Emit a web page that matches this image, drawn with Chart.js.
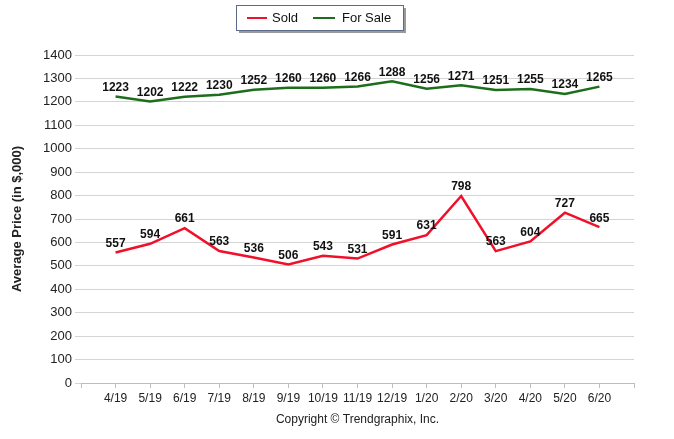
<!DOCTYPE html>
<html>
<head>
<meta charset="utf-8">
<script src="https://cdn.jsdelivr.net/npm/chart.js@4"></script>
<style>
  html, body { margin: 0; padding: 0; background: #fff; }
  #wrap { width: 674px; height: 439px; }
</style>
</head>
<body>
<div id="wrap"><canvas id="priceChart" width="674" height="439"></canvas></div>
<script>
// months shown on the x axis
const months = ["4/19", "5/19", "6/19", "7/19", "8/19", "9/19", "10/19", "11/19",
  "12/19", "1/20", "2/20", "3/20", "4/20", "5/20", "6/20"];
// average price in $,000
const sold = [557, 594, 661, 563, 536, 506, 543, 531, 591, 631, 798, 563, 604, 727, 665];
const forSale = [1223, 1202, 1222, 1230, 1252, 1260, 1260, 1266, 1288, 1256, 1271, 1251, 1255, 1234, 1265];

const FONT = "'Liberation Sans', Arial, sans-serif";
const RED = "#f0102a";
const GREEN = "#1c6e1c";

// pad an empty slot on each side so the first point sits one step from the axis
const labels = ["", ...months, ""];
const pad = (arr) => [null, ...arr, null];

// value labels drawn above each point
const valueLabels = {
  id: "valueLabels",
  afterDatasetsDraw(chart) {
    const ctx = chart.ctx;
    ctx.save();
    ctx.font = "bold 12px " + FONT;
    ctx.fillStyle = "#111";
    ctx.textAlign = "center";
    ctx.textBaseline = "bottom";
    chart.data.datasets.forEach((ds, i) => {
      chart.getDatasetMeta(i).data.forEach((pt, j) => {
        if (ds.data[j] == null) return;
        ctx.fillText(String(ds.data[j]), pt.x, pt.y - 3);
      });
    });
    ctx.restore();
  },
};

// boxed legend at the top, like the original
const boxLegend = {
  id: "boxLegend",
  afterDraw(chart) {
    const ctx = chart.ctx;
    const x = 236, y = 5, w = 167, h = 25;
    ctx.save();
    ctx.fillStyle = "#9a9a9a";
    ctx.fillRect(x + 3, y + 3, w, h);
    ctx.fillStyle = "#fff";
    ctx.fillRect(x, y, w, h);
    ctx.strokeStyle = "#5a6a88";
    ctx.lineWidth = 1;
    ctx.strokeRect(x + 0.5, y + 0.5, w, h);

    ctx.lineWidth = 2;
    ctx.strokeStyle = RED;
    ctx.beginPath();
    ctx.moveTo(x + 11, y + 13);
    ctx.lineTo(x + 31, y + 13);
    ctx.stroke();
    ctx.strokeStyle = GREEN;
    ctx.beginPath();
    ctx.moveTo(x + 77, y + 13);
    ctx.lineTo(x + 99, y + 13);
    ctx.stroke();

    ctx.font = "13px " + FONT;
    ctx.fillStyle = "#111";
    ctx.textBaseline = "middle";
    ctx.textAlign = "left";
    ctx.fillText("Sold", x + 36, y + 13);
    ctx.fillText("For Sale", x + 106, y + 13);
    ctx.restore();
  },
};

new Chart(document.getElementById("priceChart"), {
  type: "line",
  data: {
    labels: labels,
    datasets: [
      {
        label: "Sold",
        data: pad(sold),
        borderColor: RED,
        backgroundColor: RED,
        borderWidth: 2.5,
        pointRadius: 0,
        tension: 0,
      },
      {
        label: "For Sale",
        data: pad(forSale),
        borderColor: GREEN,
        backgroundColor: GREEN,
        borderWidth: 2.5,
        pointRadius: 0,
        tension: 0,
      },
    ],
  },
  options: {
    responsive: false,
    animation: false,
    layout: { padding: { top: 55, right: 40, left: 0, bottom: 0 } },
    plugins: {
      legend: { display: false },
      tooltip: { enabled: false },
    },
    scales: {
      x: {
        offset: false,
        grid: { drawOnChartArea: false, drawTicks: true, tickLength: 5, color: "#bdbdbd" },
        border: { display: true, color: "#bdbdbd" },
        ticks: {
          autoSkip: false,
          maxRotation: 0,
          padding: 3,
          color: "#222",
          font: { family: FONT, size: 12 },
        },
        title: {
          display: true,
          text: "Copyright \u00a9 Trendgraphix, Inc.",
          color: "#222",
          font: { family: FONT, size: 12 },
          padding: { top: 4, bottom: 12 },
        },
        afterFit: (s) => { s.height = 56; },
      },
      y: {
        min: 0,
        max: 1400,
        ticks: {
          stepSize: 100,
          padding: 3,
          color: "#222",
          font: { family: FONT, size: 13 },
          callback: (v) => String(v),
        },
        grid: { color: "#d4d4d4", tickLength: 6 },
        border: { display: false },
        title: {
          display: true,
          text: "Average Price (in $,000)",
          color: "#222",
          font: { family: FONT, size: 13, weight: "bold" },
          padding: { top: 10, bottom: 4 },
        },
        afterFit: (s) => { s.width = 81; },
      },
    },
  },
  plugins: [valueLabels, boxLegend],
});
</script>
</body>
</html>
